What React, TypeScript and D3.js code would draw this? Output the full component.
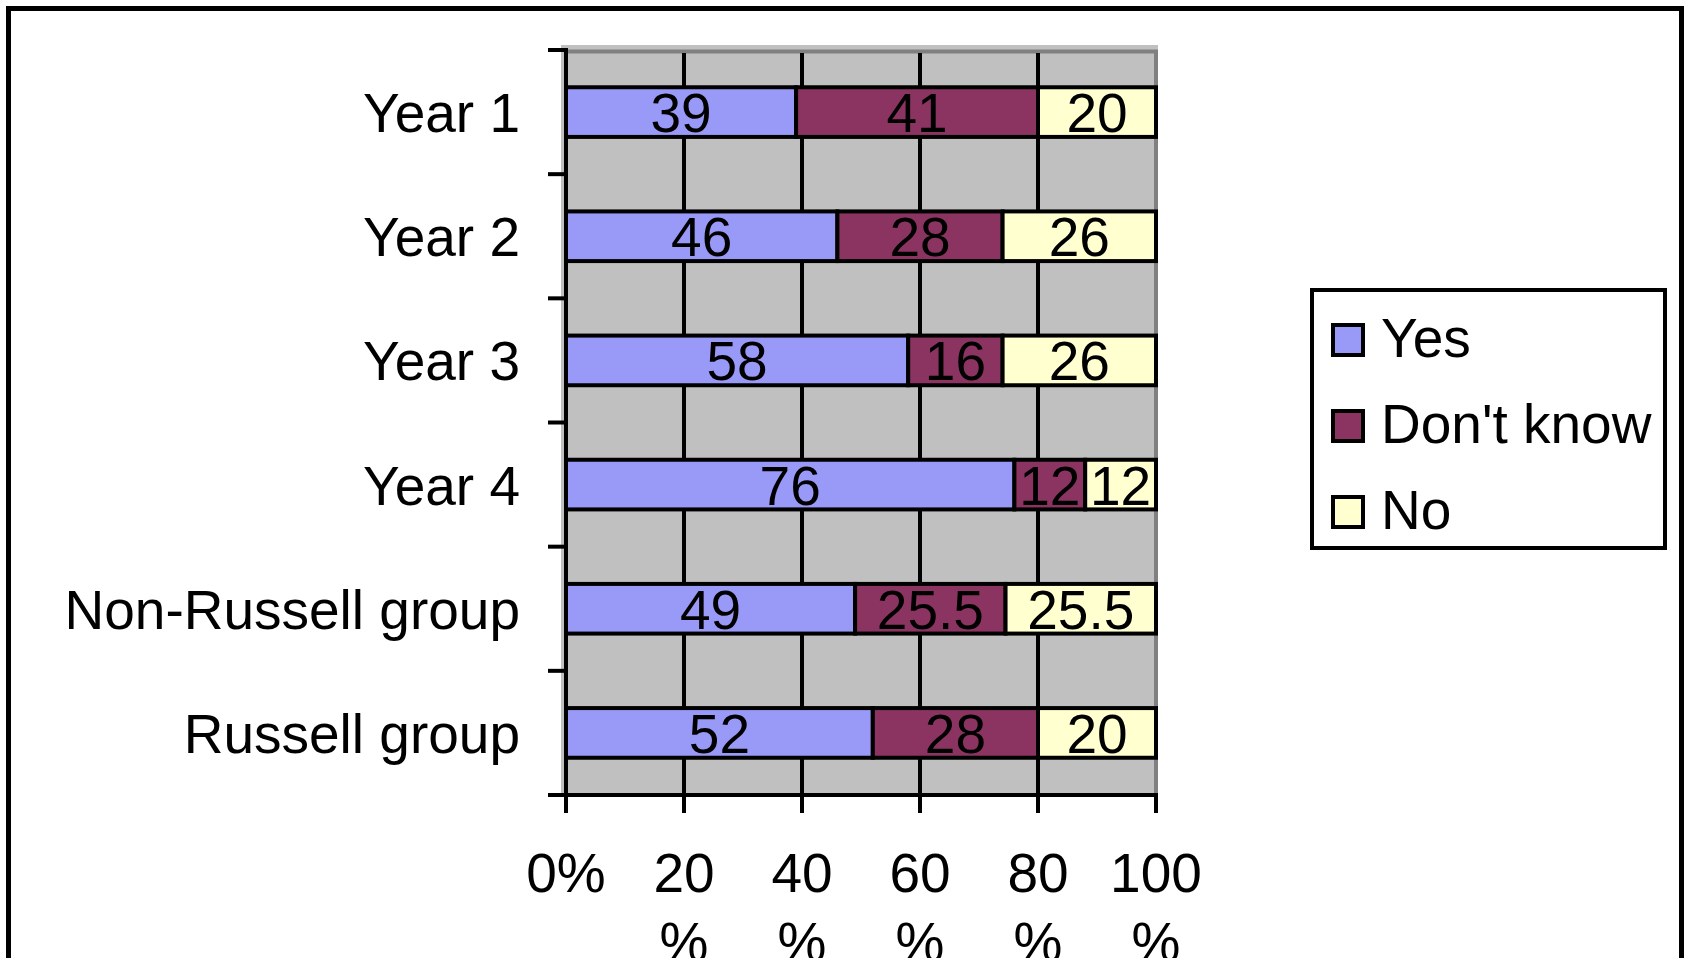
import * as d3 from "d3";

const categories = ["Year 1", "Year 2", "Year 3", "Year 4", "Non-Russell group", "Russell group"];
const seriesNames = ["Yes", "Don't know", "No"];
const yesValues = [39, 46, 58, 76, 49, 52];
const dontKnowValues = [41, 28, 16, 12, 25.5, 28];
const noValues = [20, 26, 26, 12, 25.5, 20];
const tickValues = [0, 20, 40, 60, 80, 100];

const colors = ["#9999f8", "#8b3462", "#ffffd0"];
const font = "'Liberation Sans', Arial, sans-serif";

export default function App() {
  const width = 1684;
  const height = 958;
  const x = d3.scaleLinear().domain([0, 100]).range([566, 1156]);
  const y = d3.scaleBand<string>().domain(categories).range([50, 795]).paddingInner(0.6).paddingOuter(0.3);
  const step = y.step();
  const top = 50;
  const bottom = 795;

  const rows = categories.map((c, i) => ({
    cat: c,
    vals: [yesValues[i], dontKnowValues[i], noValues[i]],
  }));
  const stack = d3.stack<{ cat: string; vals: number[] }, number>()
    .keys([0, 1, 2])
    .value((d, k) => d.vals[k]);
  const layers = stack(rows);

  return (
    <svg
      width={width}
      height={height}
      style={{ position: "absolute", left: 0, top: 0, background: "#fff" }}
      fontFamily={font}
    >
      {/* outer frame, bottom edge falls outside the picture */}
      <rect x={8.5} y={8.5} width={1673} height={1100} fill="#fff" stroke="#000" strokeWidth={5} />

      {/* plot area */}
      <rect x={561} y={45} width={597} height={bottom - 45} fill="#c0c0c0" />
      <line x1={566} x2={1158} y1={51.5} y2={51.5} stroke="#808080" strokeWidth={4} />
      <line x1={1156} x2={1156} y1={50} y2={bottom} stroke="#808080" strokeWidth={4} />

      {/* vertical gridlines */}
      {tickValues.slice(1, -1).map((t) => (
        <line key={t} x1={x(t)} x2={x(t)} y1={53} y2={bottom} stroke="#000" strokeWidth={4} />
      ))}

      {/* bars */}
      {layers.map((layer, k) =>
        layer.map((d, i) => (
          <rect
            key={`${k}-${i}`}
            x={x(d[0])}
            y={y(categories[i])}
            width={x(d[1]) - x(d[0])}
            height={y.bandwidth()}
            fill={colors[k]}
            stroke="#000"
            strokeWidth={4}
          />
        )),
      )}

      {/* data labels */}
      {layers.map((layer, k) =>
        layer.map((d, i) => (
          <text
            key={`l${k}-${i}`}
            x={(x(d[0]) + x(d[1])) / 2}
            y={(y(categories[i]) ?? 0) + y.bandwidth() / 2 + 20}
            textAnchor="middle"
            fontSize={55}
            fill="#000"
          >
            {rows[i].vals[k]}
          </text>
        )),
      )}

      {/* y axis */}
      <line x1={566} x2={566} y1={top - 2} y2={bottom + 2} stroke="#000" strokeWidth={4} />
      {d3.range(categories.length + 1).map((i) => (
        <line key={i} x1={548} x2={566} y1={top + i * step} y2={top + i * step} stroke="#000" strokeWidth={4} />
      ))}
      {categories.map((c) => (
        <text
          key={c}
          x={520}
          y={(y(c) ?? 0) + y.bandwidth() / 2 + 20}
          textAnchor="end"
          fontSize={55}
          fill="#000"
        >
          {c}
        </text>
      ))}

      {/* x axis */}
      <line x1={548} x2={1158} y1={bottom} y2={bottom} stroke="#000" strokeWidth={4} />
      {tickValues.map((t) => (
        <line key={t} x1={x(t)} x2={x(t)} y1={bottom} y2={bottom + 18} stroke="#000" strokeWidth={4} />
      ))}
      {tickValues.map((t) =>
        t === 0 ? (
          <text key={t} x={x(t)} y={892} textAnchor="middle" fontSize={55} fill="#000">
            {`${t}%`}
          </text>
        ) : (
          <text key={t} x={x(t)} textAnchor="middle" fontSize={55} fill="#000">
            <tspan x={x(t)} y={892}>{t}</tspan>
            <tspan x={x(t)} y={961}>%</tspan>
          </text>
        ),
      )}

      {/* legend */}
      <rect x={1312} y={290} width={353} height={258} fill="#fff" stroke="#000" strokeWidth={4} />
      {seriesNames.map((s, k) => {
        const cy = 340 + k * 86;
        return (
          <g key={s}>
            <rect x={1333} y={cy - 15} width={30} height={30} fill={colors[k]} stroke="#000" strokeWidth={4} />
            <text x={1381} y={cy + 17} fontSize={55} fill="#000">
              {s}
            </text>
          </g>
        );
      })}
    </svg>
  );
}
